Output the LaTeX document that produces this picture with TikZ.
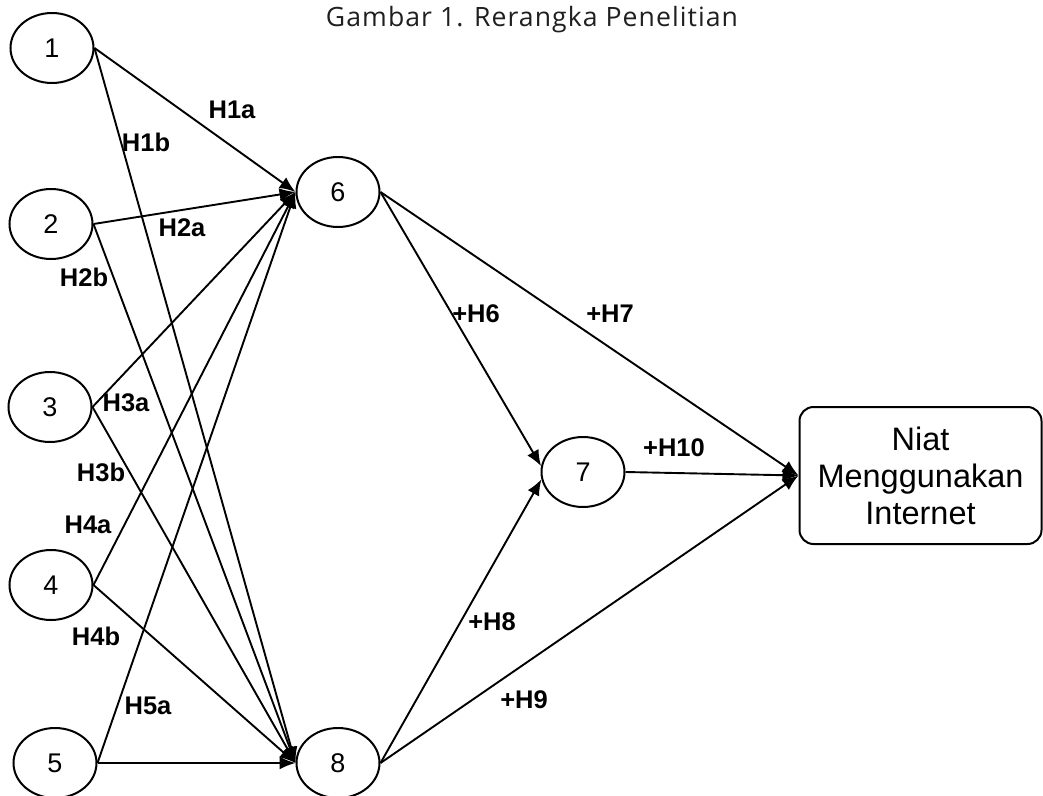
\documentclass[tikz,border=0pt]{standalone}
\usepackage{fontspec}
\setmainfont{Liberation Sans}
\newfontfamily\titlefont[LetterSpace=4]{Open Sans}
\usetikzlibrary{shapes.geometric,arrows.meta}
\begin{document}
\begin{tikzpicture}[x=1pt,y=-1pt,
  var/.style={ellipse,draw,line width=2pt,minimum width=83pt,minimum height=70pt,inner sep=0pt,font=\fontsize{27}{27}\selectfont},
  outbox/.style={draw,rounded corners=14pt,line width=2pt,minimum width=242pt,minimum height=137pt,align=center,inner sep=0pt,font=\fontsize{32.5}{37}\selectfont},
  lbl/.style={font=\fontsize{25.5}{25.5}\selectfont\bfseries,inner sep=0pt},
  arr/.style={line width=1.9pt,-{Latex[length=16pt,width=13pt]}},
  ttl/.style={font=\titlefont\fontsize{26.6}{26.6}\selectfont,text=black!88,inner sep=0pt,anchor=base}]
\useasboundingbox (0,0) rectangle (1043,795);
\node[ttl] (title) at (532,27) {Gambar 1. Rerangka Penelitian};
\node[var] (n1) at (52,48) {1};
\node[var] (n2) at (51,224) {2};
\node[var] (n3) at (50,407) {3};
\node[var] (n4) at (51,585) {4};
\node[var] (n5) at (55,763) {5};
\node[var] (n6) at (338,192) {6};
\node[var] (n7) at (583,472) {7};
\node[var] (n8) at (338,763) {8};
\node[outbox] (y) at (920.5,475.5) {Niat\\Menggunakan\\Internet};
\foreach \s in {n1,n2,n3,n4,n5}{
  \draw[arr] (\s.east) -- (n6.west);
  \draw[arr] (\s.east) -- (n8.west);
}
\draw[arr] (n6.east) -- (n7.172);
\draw[arr] (n6.east) -- (y.west);
\draw[arr] (n7.east) -- (y.west);
\draw[arr] (n8.east) -- (n7.190);
\draw[arr] (n8.east) -- (y.west);
\node[lbl] (l1a) at (232,110) {H1a};
\node[lbl] (l1b) at (146,142) {H1b};
\node[lbl] (l2a) at (182,228) {H2a};
\node[lbl] (l2b) at (84,277) {H2b};
\node[lbl] (l3a) at (126,403) {H3a};
\node[lbl] (l3b) at (101,472) {H3b};
\node[lbl] (l4a) at (88,525) {H4a};
\node[lbl] (l4b) at (96,636) {H4b};
\node[lbl] (l5a) at (148,706) {H5a};
\node[lbl] (l6) at (476,314) {+H6};
\node[lbl] (l7) at (610,314) {+H7};
\node[lbl] (l10) at (674,448) {+H10};
\node[lbl] (l8) at (492,622) {+H8};
\node[lbl] (l9) at (524,700) {+H9};
\end{tikzpicture}
\end{document}
